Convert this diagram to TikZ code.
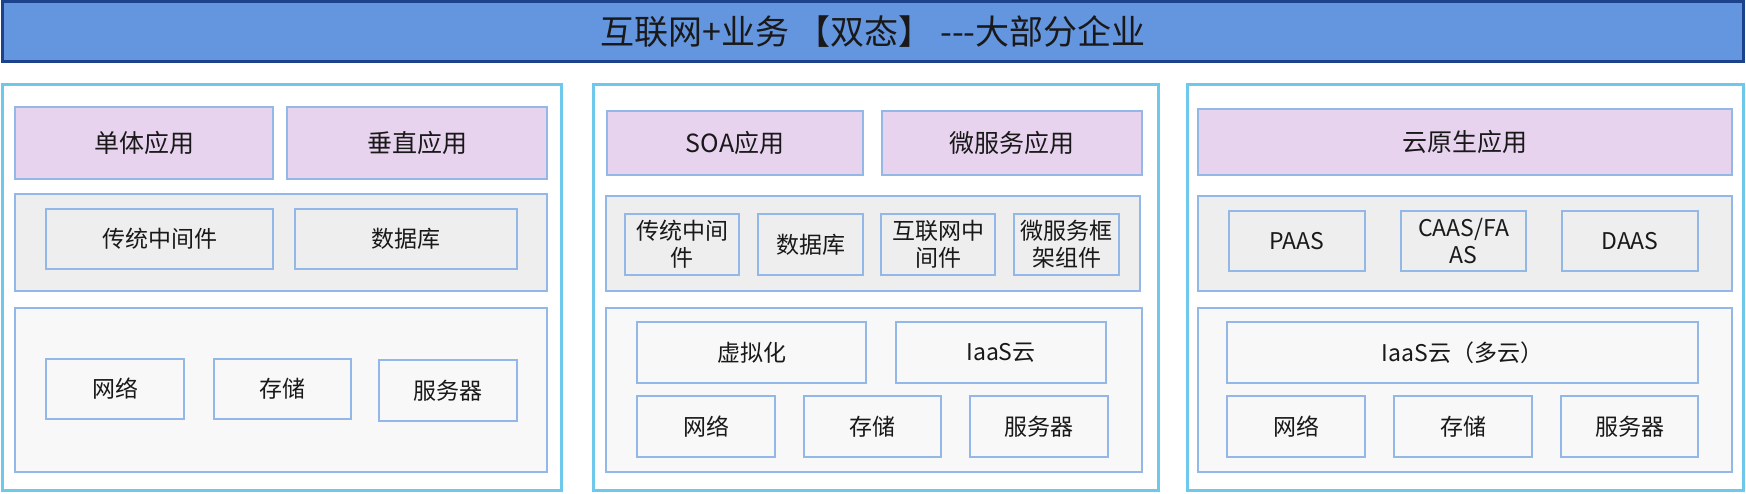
\documentclass[tikz,border=0pt]{standalone}
\usepackage{fontspec}
\setmainfont{Noto Sans CJK SC}
\definecolor{titlefill}{HTML}{6495DF}
\definecolor{titleline}{HTML}{1B428A}
\definecolor{panelline}{HTML}{6EC8EC}
\definecolor{boxline}{HTML}{93B8E8}
\definecolor{appfill}{HTML}{E8D3EF}
\definecolor{midfill}{HTML}{EEEEEE}
\definecolor{lowfill}{HTML}{F8F8F8}
\tikzset{
  blk/.style={inner sep=0,outer sep=0,text=black!90,align=center},
  sz/.style 2 args={minimum width=#1pt,minimum height=#2pt},
  panel/.style={blk,draw=panelline,line width=3pt,fill=white},
  app/.style={blk,draw=boxline,line width=2pt,fill=appfill,font=\fontsize{25}{29}\selectfont},
  midlayer/.style={blk,draw=boxline,line width=2pt,fill=midfill},
  lowlayer/.style={blk,draw=boxline,line width=2pt,fill=lowfill},
  item/.style={blk,draw=boxline,line width=2pt,font=\fontsize{23}{27}\selectfont}
}

\begin{document}
\begin{tikzpicture}[x=1pt,y=-1pt]
    \useasboundingbox (0,0) rectangle (1746,494);
    % title bar
    \node[blk,draw=titleline,line width=3pt,fill=titlefill,sz={1741}{60},font=\fontsize{34}{38}\selectfont] (title) at (873,32) {互联网+业务 【双态】 -{}-{}-大部分企业};
    % left: traditional
    \node[panel,sz={559}{405}] (p1) at (281.5,287.5) {};
    \node[app,sz={258}{72}] (p1a1) at (144,143) {单体应用};
    \node[app,sz={260}{72}] (p1a2) at (417,143) {垂直应用};
    \node[midlayer,sz={532}{97}] (p1m) at (281,242.5) {};
    \node[item,fill=midfill,sz={227}{60}] (p1m1) at (159.5,239) {传统中间件};
    \node[item,fill=midfill,sz={222}{60}] (p1m2) at (406,239) {数据库};
    \node[lowlayer,sz={532}{164}] (p1l) at (281,390) {};
    \node[item,fill=lowfill,sz={138}{60}] (p1l1) at (115,389) {网络};
    \node[item,fill=lowfill,sz={137}{60}] (p1l2) at (282.5,389) {存储};
    \node[item,fill=lowfill,sz={138}{61}] (p1l3) at (448,390.5) {服务器};
    % middle: internet
    \node[panel,sz={565}{405}] (p2) at (875.5,287.5) {};
    \node[app,sz={256}{64}] (p2a1) at (735,143) {SOA应用};
    \node[app,sz={260}{64}] (p2a2) at (1012,143) {微服务应用};
    \node[midlayer,sz={534}{95}] (p2m) at (873,243.5) {};
    \node[item,fill=midfill,sz={114}{61}] (p2m1) at (682,244.5) {传统中间\\件};
    \node[item,fill=midfill,sz={105}{61}] (p2m2) at (810.5,244.5) {数据库};
    \node[item,fill=midfill,sz={114}{61}] (p2m3) at (938,244.5) {互联网中\\间件};
    \node[item,fill=midfill,sz={105}{61}] (p2m4) at (1066.5,244.5) {微服务框\\架组件};
    \node[lowlayer,sz={536}{164}] (p2l) at (874,390) {};
    \node[item,fill=lowfill,sz={229}{61}] (p2v) at (751.5,352.5) {虚拟化};
    \node[item,fill=lowfill,sz={210}{61}] (p2c) at (1001,352.5) {IaaS云};
    \node[item,fill=lowfill,sz={138}{61}] (p2l1) at (706,426.5) {网络};
    \node[item,fill=lowfill,sz={137}{61}] (p2l2) at (872.5,426.5) {存储};
    \node[item,fill=lowfill,sz={138}{61}] (p2l3) at (1039,426.5) {服务器};
    % right: cloud native
    \node[panel,sz={556}{405}] (p3) at (1465,287.5) {};
    \node[app,sz={534}{66}] (p3a) at (1465,142) {云原生应用};
    \node[midlayer,sz={534}{95}] (p3m) at (1465,243.5) {};
    \node[item,fill=midfill,sz={136}{60}] (p3m1) at (1297,241) {PAAS};
    \node[item,fill=midfill,sz={125}{60}] (p3m2) at (1463.5,241) {CAAS/FA\\AS};
    \node[item,fill=midfill,sz={136}{60}] (p3m3) at (1630,241) {DAAS};
    \node[lowlayer,sz={534}{164}] (p3l) at (1465,390) {};
    \node[item,fill=lowfill,sz={471}{61}] (p3c) at (1462.5,352.5) {IaaS云（多云）};
    \node[item,fill=lowfill,sz={138}{61}] (p3l1) at (1296,426.5) {网络};
    \node[item,fill=lowfill,sz={138}{61}] (p3l2) at (1463,426.5) {存储};
    \node[item,fill=lowfill,sz={137}{61}] (p3l3) at (1629.5,426.5) {服务器};
\end{tikzpicture}
\end{document}
